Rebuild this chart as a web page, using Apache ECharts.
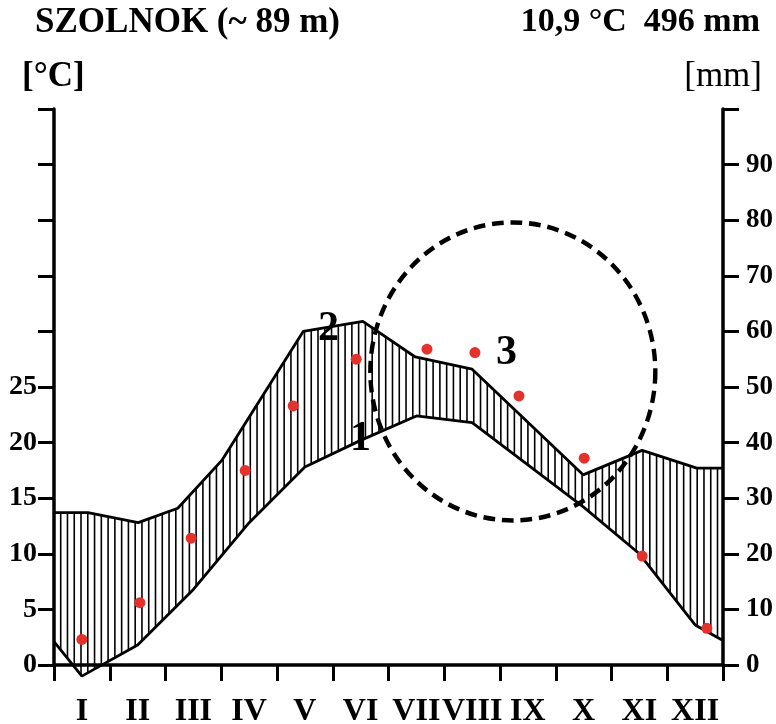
<!DOCTYPE html>
<html>
<head>
<meta charset="utf-8">
<script src="https://cdn.jsdelivr.net/npm/echarts@6/dist/echarts.min.js"></script>
<style>
html,body{margin:0;padding:0;background:#fff;}
#chart{width:776px;height:724px;}
</style>
</head>
<body>
<div id="chart"></div>
<script>
// ---- data ----
const months = ['I','II','III','IV','V','VI','VII','VIII','IX','X','XI','XII'];
// curve 1: temperature (°C), x in month units (0 = start of Jan, 12 = end of Dec)
const tempX = [0, 0.5, 1.5, 2.5, 3.5, 4.5, 5.5, 6.5, 7.5, 8.5, 9.5, 10.5, 11.5, 12];
const tempC = [2.1, -1.0, 1.8, 6.8, 12.8, 17.8, 20.2, 22.4, 21.8, 18.0, 14.2, 10.0, 3.6, 2.2];
// curve 2: precipitation (mm)
const precipX  = [0, 0.61, 1.51, 2.22, 3.01, 4.47, 5.54, 6.48, 7.5, 9.49, 10.55, 11.53, 12];
const precipMm = [27.4, 27.4, 25.6, 28.2, 36.8, 60.0, 61.8, 55.4, 53.2, 34.2, 38.6, 35.4, 35.4];
// red dots (°C)
const dotX = [0.5, 1.54, 2.46, 3.43, 4.29, 5.42, 6.69, 7.55, 8.34, 9.51, 10.55, 11.71];
const dotC = [2.3, 5.6, 11.4, 17.5, 23.3, 27.5, 28.4, 28.1, 24.2, 18.6, 9.8, 3.3];
// dashed circle "3" centre (month units, °C)
const circleCentre = [8.23, 26.4];
const tempTicksMax = 50, precipTicksMax = 100;

const SERIF = "'Liberation Serif','Times New Roman',serif";
const INK = '#000';

function interpY(pts, x) {
  for (let i = 0; i < pts.length - 1; i++) {
    const a = pts[i], b = pts[i + 1];
    if (x >= a[0] && x <= b[0]) {
      const t = (b[0] === a[0]) ? 0 : (x - a[0]) / (b[0] - a[0]);
      return a[1] + t * (b[1] - a[1]);
    }
  }
  return null;
}

const chart = echarts.init(document.getElementById('chart'), null, {renderer: 'canvas'});
const option = {
  animation: false,
  backgroundColor: '#fff',
  grid: {left: 54, right: 53, top: 109, bottom: 59, containLabel: false, outerBoundsMode: 'none'},
  xAxis: [
    {
      type: 'category', data: months, boundaryGap: true, position: 'bottom',
      axisLine: {show: true, onZero: false, lineStyle: {color: INK, width: 3.5}},
      axisTick: {show: true, interval: 0, length: 16, lineStyle: {color: INK, width: 3}},
      axisLabel: {interval: 0, margin: 31, color: INK, fontFamily: SERIF, fontWeight: 'bold', fontSize: 32},
      splitLine: {show: false}
    },
    {type: 'value', min: 0, max: 12, show: false}
  ],
  yAxis: [
    {
      type: 'value', min: 0, max: tempTicksMax, interval: 5, position: 'left',
      axisLine: {show: true, lineStyle: {color: INK, width: 3.5}},
      axisTick: {show: true, length: 16, lineStyle: {color: INK, width: 3}},
      axisLabel: {margin: 17, color: INK, fontFamily: SERIF, fontWeight: 'bold', fontSize: 28,
        formatter: v => (v <= 25 ? String(v) : '')},
      splitLine: {show: false}
    },
    {
      type: 'value', min: 0, max: precipTicksMax, interval: 10, position: 'right',
      axisLine: {show: true, lineStyle: {color: INK, width: 3.5}},
      axisTick: {show: true, length: 16, lineStyle: {color: INK, width: 3}},
      axisLabel: {margin: 23, color: INK, fontFamily: SERIF, fontWeight: 'bold', fontSize: 27,
        formatter: v => (v < 100 ? String(v) : '')},
      splitLine: {show: false}
    }
  ],
  series: [
    {
      // hatched band between curve 2 (precip, 10 mm = 5 °C) and curve 1 (temperature)
      type: 'custom', xAxisIndex: 1, yAxisIndex: 0, silent: true, z: 1, clip: false,
      data: [[0, 0]],
      renderItem: function (params, api) {
        const top = precipX.map((x, i) => api.coord([x, precipMm[i] / 2]));
        const bot = tempX.map((x, i) => api.coord([x, tempC[i]]));
        const x0 = api.coord([0, 0])[0], x1 = api.coord([12, 0])[0];
        const children = [];
        const step = (x1 - x0) / 98.8;
        for (let x = x0 + 6.7; x < x1 - 1; x += step) {
          const yt = interpY(top, x), yb = interpY(bot, x);
          if (yt == null || yb == null) continue;
          children.push({type: 'line', shape: {x1: x, y1: yt, x2: x, y2: yb},
            style: {stroke: '#000', lineWidth: 1.6}});
        }
        return {type: 'group', children: children};
      }
    },
    {
      name: 'precip', type: 'line', xAxisIndex: 1, yAxisIndex: 1, clip: false, z: 3,
      symbol: 'none', silent: true,
      lineStyle: {color: INK, width: 2.8},
      data: precipX.map((x, i) => [x, precipMm[i]])
    },
    {
      name: 'temp', type: 'line', xAxisIndex: 1, yAxisIndex: 0, clip: false, z: 3,
      symbol: 'none', silent: true,
      lineStyle: {color: INK, width: 2.8},
      data: tempX.map((x, i) => [x, tempC[i]])
    },
    {
      name: 'dots', type: 'scatter', xAxisIndex: 1, yAxisIndex: 0, z: 4, silent: true,
      symbolSize: 11, itemStyle: {color: '#e8302a', opacity: 1},
      data: dotX.map((x, i) => [x, dotC[i]])
    },
    {
      name: 'circle', type: 'scatter', xAxisIndex: 1, yAxisIndex: 0, z: 5, silent: true,
      symbol: 'circle', symbolSize: [285, 298],
      itemStyle: {color: 'rgba(0,0,0,0)', borderColor: '#000', borderWidth: 4.5, borderType: [12, 7], opacity: 1},
      data: [circleCentre]
    }
  ],
  graphic: [
    {type: 'text', left: 35, top: 5, style: {text: 'SZOLNOK (~ 89 m)', font: 'bold 35px ' + SERIF, fill: INK}},
    {type: 'text', right: 16, top: 5, style: {text: '10,9 °C  496 mm', font: 'bold 34px ' + SERIF, fill: INK}},
    {type: 'text', left: 22, top: 59, style: {text: '[°C]', font: 'bold 35px ' + SERIF, fill: INK}},
    {type: 'text', right: 14, top: 59, style: {text: '[mm]', font: '35px ' + SERIF, fill: INK}},
    {type: 'text', left: 318, top: 308, style: {text: '2', font: 'bold 42px ' + SERIF, fill: INK}},
    {type: 'text', left: 350, top: 418, style: {text: '1', font: 'bold 42px ' + SERIF, fill: INK}},
    {type: 'text', left: 496, top: 332, style: {text: '3', font: 'bold 42px ' + SERIF, fill: INK}}
  ]
};
chart.setOption(option);
</script>
</body>
</html>
